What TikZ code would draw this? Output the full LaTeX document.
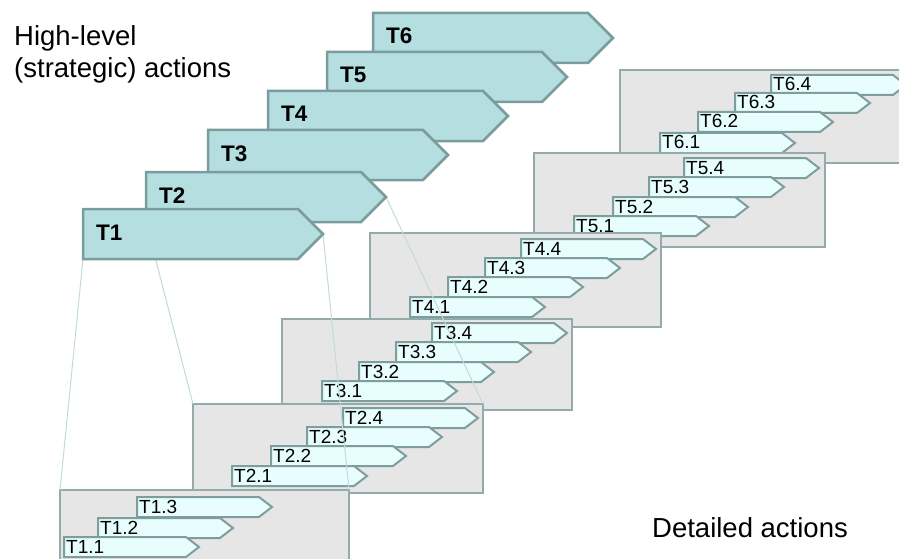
\documentclass[tikz,border=0pt]{standalone}
\usepackage{fontspec}
\setmainfont{Liberation Sans}
\usetikzlibrary{shapes.symbols}

\definecolor{bigfill}{HTML}{B5DEE1}
\definecolor{bigedge}{HTML}{7B9C9D}
\definecolor{boxfill}{HTML}{E6E6E6}
\definecolor{boxedge}{HTML}{93ABAB}
\definecolor{smallfill}{HTML}{E8FDFD}
\definecolor{smalledge}{HTML}{7E9D9D}
\definecolor{guide}{HTML}{C3DADA}

\tikzset{
  bigtask/.style={signal, signal to=east, signal pointer angle=90,
    minimum width=240pt, minimum height=50pt, inner sep=0pt, outer sep=0pt,
    fill=bigfill, draw=bigedge, line width=2.5pt, anchor=north west},
  biglabel/.style={font=\fontsize{22.5}{26}\selectfont\bfseries, inner sep=0pt,
    anchor=base west},
  detailbox/.style={rectangle, minimum width=#1, inner sep=0pt, outer sep=0pt,
    fill=boxfill, draw=boxedge, line width=1.5pt, anchor=north west},
  smalltask/.style={signal, signal to=east, signal pointer angle=75,
    minimum width=135pt, minimum height=20pt, inner sep=0pt, outer sep=0pt,
    fill=smallfill, draw=smalledge, line width=2pt, anchor=north west},
  smalllabel/.style={font=\fontsize{19}{21}\selectfont, inner sep=0pt,
    anchor=base west},
  guideline/.style={draw=guide, line width=1pt},
  caption/.style={font=\fontsize{27.5}{32}\selectfont, inner sep=0pt,
    align=left}
}

% one detail task: #1 name, #2 left, #3 top, #4 text
\newcommand{\subtask}[4]{%
  \node[smalltask] (#1) at (#2,#3) {};
  \node[smalllabel] (#1l) at ([xshift=2pt,yshift=-16pt]#1.north west) {#4};
}
% one detail box: #1 name, #2 left, #3 top, #4 width, #5 height
\newcommand{\detailpanel}[5]{%
  \node[detailbox=#4pt, minimum height=#5pt] (#1) at (#2,#3) {};
}

\begin{document}
\begin{tikzpicture}[x=1pt,y=-1pt]
\useasboundingbox (0,0) rectangle (899,559);
\clip (0,0) rectangle (899,559);

% detail panels, back to front
\detailpanel{b6}{620}{70}{290}{93}
\subtask{s64}{771}{75}{T6.4}
\subtask{s63}{735}{93}{T6.3}
\subtask{s62}{698}{112}{T6.2}
\subtask{s61}{660}{133}{T6.1}

\detailpanel{b5}{534}{153}{291}{94}
\subtask{s54}{684}{158}{T5.4}
\subtask{s53}{649}{177}{T5.3}
\subtask{s52}{613}{197}{T5.2}
\subtask{s51}{574}{216}{T5.1}

\detailpanel{b4}{370}{233}{291}{94}
\subtask{s44}{521}{239}{T4.4}
\subtask{s43}{485}{258}{T4.3}
\subtask{s42}{448}{277}{T4.2}
\subtask{s41}{410}{297}{T4.1}

\detailpanel{b3}{282}{319}{290}{91}
\subtask{s34}{432}{323}{T3.4}
\subtask{s33}{396}{342}{T3.3}
\subtask{s32}{359}{362}{T3.2}
\subtask{s31}{322}{381}{T3.1}

\detailpanel{b2}{193}{404}{290}{89}
\subtask{s24}{343}{408}{T2.4}
\subtask{s23}{307}{427}{T2.3}
\subtask{s22}{271}{446}{T2.2}
\subtask{s21}{232}{466}{T2.1}

\detailpanel{b1}{60}{490}{289}{93}
\subtask{s13}{137}{497}{T1.3}
\subtask{s12}{98}{518}{T1.2}
\subtask{s11}{64}{537}{T1.1}

% outlines of the high-level tasks, so the guides can refer to them
\path
  node[bigtask, fill=none, draw=none] (a2) at (146,172) {}
  node[bigtask, fill=none, draw=none] (a1) at (83,209) {};

% zoom guides from T1 and T2 to their detail panels
\draw[guideline] (a1.south west) -- (b1.north west);
\draw[guideline] (a1.east) -- (b1.north east);
\draw[guideline] (a2.south west) -- (b2.north west);
\draw[guideline] (a2.east) -- (b2.north east);

% high-level task arrows, back to front
\node[bigtask] (h6) at (373,13) {};
\node[biglabel] (h6l) at ([xshift=13pt,yshift=-31pt]h6.north west) {T6};
\node[bigtask] (h5) at (327,52) {};
\node[biglabel] (h5l) at ([xshift=13pt,yshift=-31pt]h5.north west) {T5};
\node[bigtask] (h4) at (268,91) {};
\node[biglabel] (h4l) at ([xshift=13pt,yshift=-31pt]h4.north west) {T4};
\node[bigtask] (h3) at (208,130) {};
\node[biglabel] (h3l) at ([xshift=13pt,yshift=-31pt]h3.north west) {T3};
\node[bigtask] (h2) at (146,172) {};
\node[biglabel] (h2l) at ([xshift=13pt,yshift=-31pt]h2.north west) {T2};
\node[bigtask] (h1) at (83,209) {};
\node[biglabel] (h1l) at ([xshift=13pt,yshift=-31pt]h1.north west) {T1};

% captions
\node[caption, anchor=base west] (hl) at (14,78) {High-level\\(strategic) actions};
\node[caption, anchor=base west] (dl) at (652,537) {Detailed actions};
\end{tikzpicture}
\end{document}
